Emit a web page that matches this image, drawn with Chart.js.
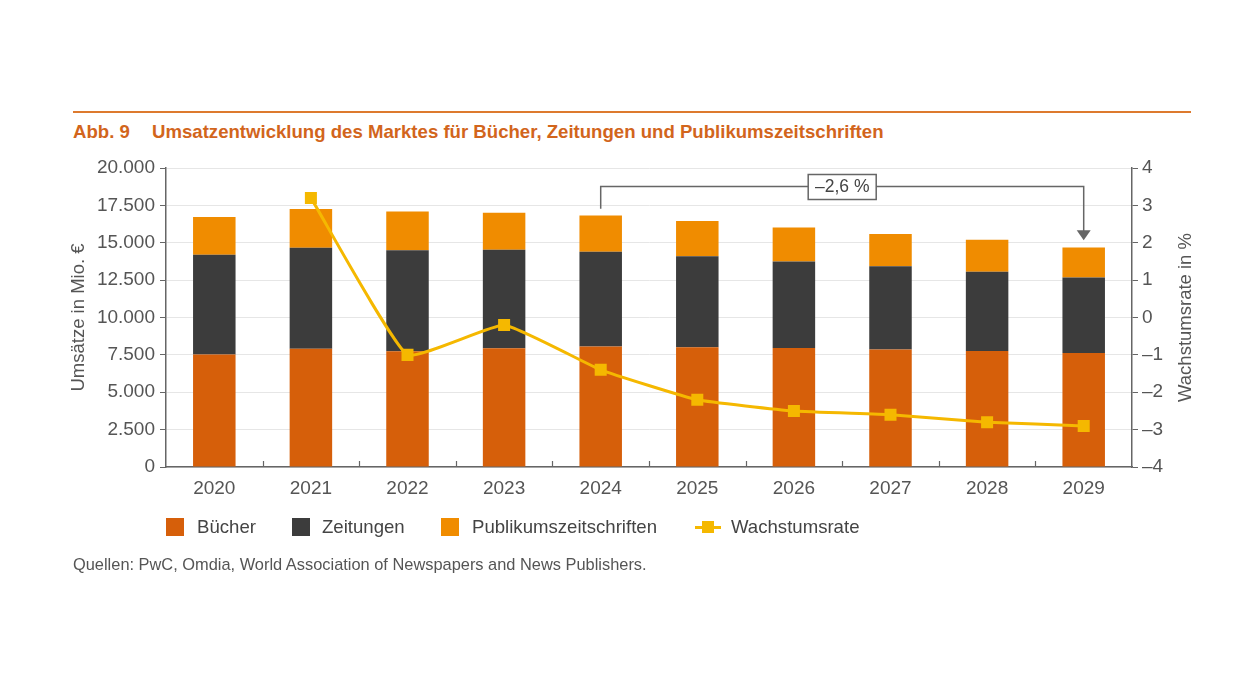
<!DOCTYPE html>
<html lang="de">
<head>
<meta charset="utf-8">
<script src="https://cdn.jsdelivr.net/npm/chart.js@4/dist/chart.umd.min.js"></script>
<style>
  body { margin: 0; background: #fff; font-family: "Liberation Sans", Arial, sans-serif; }
  #wrap { position: relative; width: 1260px; height: 680px; }
  #chart { position: absolute; left: 0; top: 0; }
  .rule { position: absolute; left: 73px; top: 111px; width: 1118px; height: 2px; background: #dd7a2e; }
  .title { position: absolute; top: 121px; font-weight: bold; font-size: 18.6px; color: #d2651c; white-space: nowrap; }
  .legend { position: absolute; top: 516px; left: 166px; font-size: 18.6px; color: #444; }
  .legend span { position: absolute; white-space: nowrap; top: 0; }
  .legend i { position: absolute; top: 2px; width: 18px; height: 18px; }
  .source { position: absolute; left: 73px; top: 555px; font-size: 16.4px; color: #555; white-space: nowrap; }
</style>
</head>
<body>
<div id="wrap">
  <div class="rule"></div>
  <div class="title" style="left:73px">Abb. 9</div>
  <div class="title" style="left:152px">Umsatzentwicklung des Marktes für Bücher, Zeitungen und Publikumszeitschriften</div>
  <canvas id="chart" width="1260" height="680"></canvas>
  <div class="legend">
    <i style="left:0;background:#d65f0a"></i><span style="left:31px">Bücher</span>
    <i style="left:126px;background:#3c3c3c"></i><span style="left:156px">Zeitungen</span>
    <i style="left:275px;background:#f08c00"></i><span style="left:306px">Publikumszeitschriften</span>
    <i style="left:529px;top:10px;width:26px;height:3px;background:#f5b800"></i>
    <i style="left:536px;top:5px;width:12px;height:12px;background:#f5b800"></i><span style="left:565px">Wachstumsrate</span>
  </div>
  <div class="source">Quellen: PwC, Omdia, World Association of Newspapers and News Publishers.</div>
</div>
<script>
// values, Mio. €
const years = ['2020', '2021', '2022', '2023', '2024', '2025', '2026', '2027', '2028', '2029'];
const buecher = [7530, 7910, 7750, 7950, 8060, 8010, 7960, 7860, 7760, 7630];
const zeitungen = [6660, 6750, 6750, 6590, 6330, 6090, 5790, 5570, 5300, 5050];
const publikum = [2540, 2600, 2590, 2470, 2430, 2360, 2270, 2160, 2140, 2000];
const wachstum = [null, 3.2, -1.0, -0.2, -1.4, -2.2, -2.5, -2.6, -2.8, -2.9];
const cagrLabel = '\u20132,6 %';
const rightTitle = 'Wachstumsrate in %';

const totals = years.map((y, i) => buecher[i] + zeitungen[i] + publikum[i]);
const fontFam = '"Liberation Sans", Arial, sans-serif';

const deNum = v => String(v).replace(/\B(?=(\d{3})+(?!\d))/g, '.');

// little tick marks between the categories, pointing up from the x axis
// + the right axis title, reading bottom to top like the left one
const extras = {
    id: 'extras',
    afterDraw(chart) {
        const { ctx, scales: { x }, chartArea } = chart;
        const half = (x.getPixelForValue(1) - x.getPixelForValue(0)) / 2;
        ctx.save();
        ctx.strokeStyle = '#666';
        ctx.lineWidth = 1.2;
        for (let i = 1; i < years.length; i++) {
            const px = Math.round(x.getPixelForValue(i) - half) + 0.5;
            ctx.beginPath();
            ctx.moveTo(px, chartArea.bottom);
            ctx.lineTo(px, chartArea.bottom - 6);
            ctx.stroke();
        }
        ctx.translate(1186, (chartArea.top + chartArea.bottom) / 2);
        ctx.rotate(-Math.PI / 2);
        ctx.fillStyle = '#555';
        ctx.font = '18.5px ' + fontFam;
        ctx.textAlign = 'center';
        ctx.textBaseline = 'middle';
        ctx.fillText(rightTitle, 0, 0);
        ctx.restore();
    }
};

// bracket 2024 -> 2029 with the average growth box
const cagr = {
    id: 'cagr',
    afterDatasetsDraw(chart) {
        const { ctx, scales: { x, y } } = chart;
        const x0 = x.getPixelForValue(4), x1 = x.getPixelForValue(9);
        const yTop = Math.round(y.getPixelForValue(18800)) + 0.5;
        const y0 = y.getPixelForValue(totals[4] + 450);
        const y1 = y.getPixelForValue(totals[9] + 480);
        ctx.save();
        ctx.strokeStyle = '#666';
        ctx.fillStyle = '#666';
        ctx.lineWidth = 1.5;
        ctx.beginPath();
        ctx.moveTo(x0, y0);
        ctx.lineTo(x0, yTop);
        ctx.lineTo(x1, yTop);
        ctx.lineTo(x1, y1 - 9);
        ctx.stroke();
        ctx.beginPath();
        ctx.moveTo(x1 - 7, y1 - 10);
        ctx.lineTo(x1 + 7, y1 - 10);
        ctx.lineTo(x1, y1);
        ctx.closePath();
        ctx.fill();
        const cx = (x0 + x1) / 2;
        ctx.fillStyle = '#fff';
        ctx.fillRect(cx - 34, yTop - 12, 68, 25);
        ctx.strokeRect(cx - 34, yTop - 12, 68, 25);
        ctx.fillStyle = '#444';
        ctx.font = '17.5px ' + fontFam;
        ctx.textAlign = 'center';
        ctx.textBaseline = 'middle';
        ctx.fillText(cagrLabel, cx, yTop + 1);
        ctx.restore();
    }
};

const barSet = (label, data, color) => ({
    type: 'bar',
    label: label,
    data: data,
    backgroundColor: color,
    stack: 'umsatz',
    yAxisID: 'y',
    order: 1,
    barPercentage: 0.44,
    categoryPercentage: 1
});

new Chart(document.getElementById('chart').getContext('2d'), {
    data: {
        labels: years,
        datasets: [
            barSet('Bücher', buecher, '#d65f0a'),
            barSet('Zeitungen', zeitungen, '#3c3c3c'),
            barSet('Publikumszeitschriften', publikum, '#f08c00'),
            {
                type: 'line',
                label: 'Wachstumsrate',
                data: wachstum,
                yAxisID: 'y1',
                order: 0,
                borderColor: '#f5b800',
                backgroundColor: '#f5b800',
                borderWidth: 3,
                tension: 0.12,
                pointStyle: 'rect',
                pointRadius: 8.5,
                pointBorderWidth: 0,
                spanGaps: false
            }
        ]
    },
    options: {
        responsive: false,
        animation: false,
        layout: { padding: { left: 64, right: 60, top: 168, bottom: 173 } },
        plugins: { legend: { display: false }, tooltip: { enabled: false } },
        scales: {
            x: {
                stacked: true,
                afterFit: s => { s.height = 40; },
                grid: { display: false },
                border: { color: '#666', width: 1.5 },
                ticks: { color: '#555', padding: 2, font: { family: fontFam, size: 19 } }
            },
            y: {
                position: 'left',
                stacked: true,
                min: 0,
                max: 20000,
                afterFit: s => { s.width = 102; },
                grid: { color: '#e6e6e6', tickColor: '#666', tickLength: 6 },
                border: { color: '#666', width: 1.5 },
                ticks: { stepSize: 2500, color: '#555', padding: 5, font: { family: fontFam, size: 19 }, callback: v => deNum(v) },
                title: { display: true, text: 'Umsätze in Mio. €', color: '#555', font: { family: fontFam, size: 18.5 } }
            },
            y1: {
                position: 'right',
                min: -4,
                max: 4,
                afterFit: s => { s.width = 68; },
                grid: { drawOnChartArea: false, tickColor: '#666', tickLength: 6 },
                border: { color: '#666', width: 1.5 },
                ticks: { stepSize: 1, color: '#555', padding: 4, font: { family: fontFam, size: 19 }, callback: v => v < 0 ? '\u2013' + Math.abs(v) : String(v) }
            }
        }
    },
    plugins: [extras, cagr]
});
</script>
</body>
</html>
